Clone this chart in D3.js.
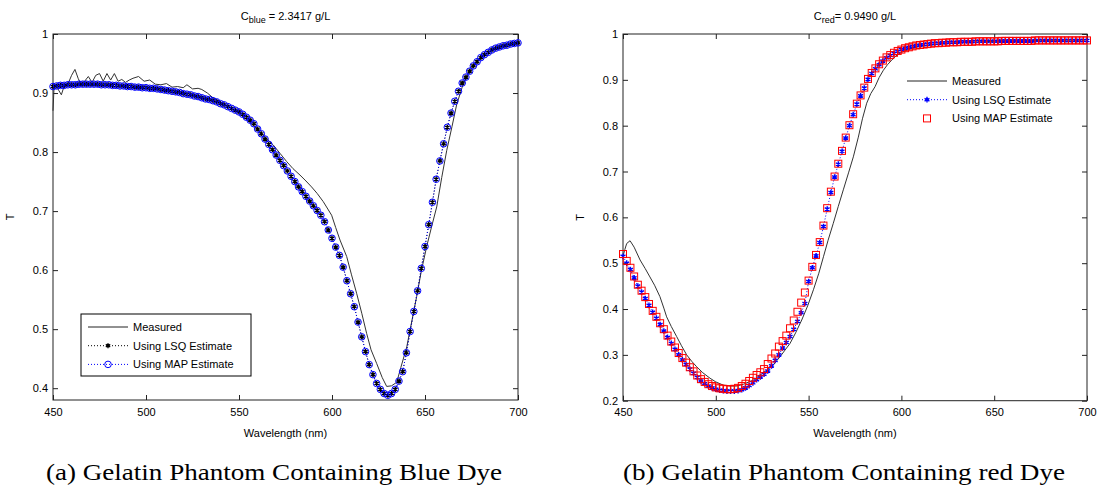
<!DOCTYPE html>
<html lang="en">
  <head>
    <meta charset="UTF-8" />
    <title>Gelatin Phantom Transmittance</title>
    <script src="https://d3js.org/d3.v7.min.js"></script>
    <style>
      body {
        margin: 0;
        background: #fff;
      }
      svg text {
        font-family: "Liberation Sans", Arial, sans-serif;
        fill: #000;
      }
      svg text.caption {
        font-family: "Liberation Serif", "DejaVu Serif", serif;
      }
    </style>
  </head>
  <body>
    <svg width="1097" height="488"></svg>

    <script>
      // fit curves sampled every 2 nm
      const fitWl = d3.range(450, 701, 2);

      const mapBlue = [
        0.911, 0.912, 0.913, 0.913, 0.914, 0.914, 0.914, 0.915, 0.915, 0.915, 0.915, 0.915, 0.915,
        0.914, 0.914, 0.914, 0.913, 0.913, 0.912, 0.912, 0.911, 0.911, 0.910, 0.910, 0.909,
        0.909, 0.908, 0.908, 0.907, 0.906, 0.905, 0.904, 0.903, 0.902, 0.901, 0.899, 0.898, 0.897,
        0.895, 0.894, 0.892, 0.890, 0.889, 0.887, 0.885, 0.882, 0.880, 0.877, 0.874, 0.871,
        0.868, 0.864, 0.859, 0.854, 0.848, 0.839, 0.831, 0.822, 0.813, 0.804, 0.795, 0.786, 0.777,
        0.768, 0.759, 0.750, 0.741, 0.733, 0.725, 0.717, 0.709, 0.701, 0.693, 0.682, 0.668,
        0.654, 0.639, 0.625, 0.605, 0.582, 0.560, 0.538, 0.512, 0.487, 0.462, 0.440, 0.423, 0.408,
        0.398, 0.391, 0.388, 0.391, 0.398, 0.412, 0.428, 0.460, 0.496, 0.530, 0.565, 0.603,
        0.640, 0.677, 0.715, 0.754, 0.785, 0.814, 0.842, 0.866, 0.886, 0.903, 0.917, 0.927, 0.937,
        0.946, 0.953, 0.960, 0.965, 0.969, 0.973, 0.976, 0.978, 0.980, 0.981, 0.983, 0.984, 0.985
      ];
      const lsqBlue = [
        0.911, 0.912, 0.913, 0.913, 0.914, 0.914, 0.914, 0.915, 0.915, 0.915, 0.915, 0.915, 0.915,
        0.914, 0.914, 0.914, 0.913, 0.913, 0.912, 0.912, 0.911, 0.911, 0.910, 0.910, 0.909,
        0.909, 0.908, 0.908, 0.907, 0.906, 0.905, 0.904, 0.903, 0.902, 0.901, 0.899, 0.898, 0.897,
        0.895, 0.894, 0.892, 0.890, 0.889, 0.887, 0.885, 0.882, 0.880, 0.877, 0.874, 0.871,
        0.868, 0.864, 0.859, 0.854, 0.848, 0.839, 0.831, 0.822, 0.813, 0.804, 0.795, 0.786, 0.777,
        0.768, 0.759, 0.750, 0.741, 0.733, 0.725, 0.717, 0.709, 0.701, 0.693, 0.682, 0.668,
        0.654, 0.639, 0.625, 0.605, 0.582, 0.560, 0.538, 0.512, 0.487, 0.462, 0.440, 0.423, 0.408,
        0.398, 0.391, 0.388, 0.391, 0.398, 0.412, 0.428, 0.460, 0.496, 0.530, 0.565, 0.603,
        0.640, 0.677, 0.715, 0.754, 0.785, 0.814, 0.842, 0.866, 0.886, 0.903, 0.917, 0.927, 0.937,
        0.946, 0.953, 0.960, 0.965, 0.969, 0.973, 0.976, 0.978, 0.980, 0.981, 0.983, 0.984, 0.985
      ];

      const measBlueWl = [
        450, 450.5, 451, 452, 453, 454.5, 456, 458, 460, 461.8, 463.5, 465, 467, 469, 471, 473, 475,
        477, 479, 481, 483, 485, 487, 489, 491, 493, 496, 499, 502, 505, 508, 511, 514, 517, 520,
        522, 525, 528, 530, 533, 536, 540, 545, 550, 555, 560, 565, 568.4, 572, 575.6, 579, 582.8,
        586, 589, 592, 595.3, 599.8, 602, 604.3, 607.9, 610.5, 613.3, 616, 618.6, 621, 624, 627,
        629.4, 632, 634.8, 637, 640.2, 643, 645.5, 648, 650.9, 653.5, 656.3, 659, 661.7, 664.5,
        667, 670, 673, 676, 680, 685, 690, 695, 700
      ];
      const measBlue = [
        0.870, 0.905, 0.915, 0.912, 0.905, 0.897, 0.912, 0.915, 0.930, 0.940, 0.925, 0.915, 0.920,
        0.928, 0.918, 0.930, 0.933, 0.920, 0.933, 0.922, 0.933, 0.920, 0.923, 0.918, 0.922, 0.925,
        0.928, 0.920, 0.922, 0.915, 0.914, 0.916, 0.910, 0.911, 0.909, 0.914, 0.907, 0.908, 0.906,
        0.900, 0.892, 0.885, 0.876, 0.866, 0.853, 0.838, 0.822, 0.812, 0.798, 0.784, 0.772, 0.761,
        0.751, 0.741, 0.730, 0.716, 0.693, 0.672, 0.651, 0.623, 0.592, 0.560, 0.527, 0.493, 0.465,
        0.442, 0.418, 0.403, 0.404, 0.410, 0.435, 0.470, 0.515, 0.555, 0.598, 0.640, 0.673, 0.707,
        0.757, 0.803, 0.843, 0.880, 0.910, 0.932, 0.946, 0.960, 0.970, 0.978, 0.982, 0.985
      ];

      const mapRed = [
        0.520, 0.505, 0.490, 0.471, 0.453, 0.440, 0.426, 0.411, 0.396, 0.383, 0.369, 0.356, 0.342,
        0.329, 0.316, 0.304, 0.293, 0.283, 0.273, 0.264, 0.255, 0.247, 0.241, 0.236, 0.232,
        0.229, 0.227, 0.226, 0.225, 0.225, 0.226, 0.228, 0.232, 0.237, 0.243, 0.250, 0.256, 0.262,
        0.269, 0.280, 0.292, 0.303, 0.318, 0.330, 0.342, 0.358, 0.375, 0.394, 0.414, 0.436,
        0.462, 0.492, 0.518, 0.546, 0.582, 0.620, 0.656, 0.689, 0.717, 0.745, 0.774, 0.801, 0.825,
        0.848, 0.866, 0.883, 0.902, 0.915, 0.925, 0.934, 0.942, 0.949, 0.954, 0.959, 0.963,
        0.966, 0.969, 0.971, 0.973, 0.975, 0.976, 0.977, 0.978, 0.979, 0.980, 0.980, 0.981, 0.981,
        0.982, 0.982, 0.982, 0.983, 0.983, 0.983, 0.983, 0.984, 0.984, 0.984, 0.984, 0.984,
        0.984, 0.984, 0.985, 0.985, 0.985, 0.985, 0.985, 0.985, 0.985, 0.985, 0.985, 0.986, 0.986,
        0.986, 0.986, 0.986, 0.986, 0.986, 0.986, 0.986, 0.986, 0.986, 0.986, 0.986, 0.986, 0.986
      ];
      const lsqRed = [
        0.515, 0.500, 0.486, 0.468, 0.450, 0.437, 0.423, 0.408, 0.393, 0.380, 0.366, 0.352, 0.338,
        0.325, 0.312, 0.300, 0.289, 0.279, 0.269, 0.260, 0.251, 0.243, 0.237, 0.232, 0.228,
        0.225, 0.223, 0.222, 0.221, 0.221, 0.221, 0.222, 0.224, 0.228, 0.233, 0.239, 0.246, 0.252,
        0.258, 0.265, 0.276, 0.288, 0.300, 0.315, 0.327, 0.340, 0.356, 0.373, 0.392, 0.412,
        0.460, 0.490, 0.516, 0.545, 0.580, 0.618, 0.654, 0.688, 0.716, 0.744, 0.773, 0.800, 0.824,
        0.847, 0.865, 0.882, 0.901, 0.914, 0.924, 0.933, 0.941, 0.948, 0.953, 0.958, 0.962,
        0.966, 0.969, 0.971, 0.973, 0.975, 0.976, 0.977, 0.978, 0.979, 0.980, 0.980, 0.981, 0.981,
        0.982, 0.982, 0.982, 0.983, 0.983, 0.983, 0.983, 0.984, 0.984, 0.984, 0.984, 0.984,
        0.984, 0.984, 0.985, 0.985, 0.985, 0.985, 0.985, 0.985, 0.985, 0.985, 0.985, 0.986, 0.986,
        0.986, 0.986, 0.986, 0.986, 0.986, 0.986, 0.986, 0.986, 0.986, 0.986, 0.986, 0.986, 0.986
      ];

      const measRedWl = [
        450, 451, 452, 453.8, 456, 459.2, 462, 464.5, 467, 469.9, 472, 473.5, 476, 478.9, 481.5,
        484.3, 487, 489.7, 493, 496.9, 500, 504, 508, 511.3, 515, 520.2, 525, 531, 535, 540, 543,
        546.3, 549.5, 552.6, 555.5, 558, 560.5, 563.3, 566, 568.7, 571.5, 574.1, 576.8, 579, 581.3,
        583.5, 585.8, 588, 590.3, 592.5, 594.8, 597, 600, 605, 610, 620, 630, 650, 675, 700
      ];
      const measRed = [
        0.515, 0.530, 0.543, 0.549, 0.535, 0.507, 0.488, 0.470, 0.452, 0.427, 0.402, 0.383, 0.362,
        0.340, 0.320, 0.300, 0.286, 0.274, 0.261, 0.249, 0.241, 0.234, 0.232, 0.232, 0.236, 0.245,
        0.259, 0.278, 0.298, 0.325, 0.348, 0.376, 0.407, 0.442, 0.478, 0.514, 0.550, 0.587, 0.624,
        0.660, 0.697, 0.732, 0.775, 0.815, 0.849, 0.870, 0.885, 0.905, 0.921, 0.933, 0.943, 0.952,
        0.960, 0.968, 0.973, 0.978, 0.981, 0.984, 0.986, 0.987
      ];

      const xTicks = [450, 500, 550, 600, 650, 700];
      const yTicksBlue = [0.4, 0.5, 0.6, 0.7, 0.8, 0.9, 1];
      const yTicksRed = [0.2, 0.3, 0.4, 0.5, 0.6, 0.7, 0.8, 0.9, 1];
      const legendLabels = ["Measured", "Using LSQ Estimate", "Using MAP Estimate"];

      const svg = d3.select("svg");
      const tickFmt = (d) => (d === 1 ? "1" : d.toFixed(1));

      function panel(opt) {
        const x = d3.scaleLinear().domain([450, 700]).range([opt.left, opt.right]);
        const y = d3.scaleLinear().domain(opt.yDomain).range([opt.bottom, opt.top]);
        const g = svg.append("g");
        const w = opt.right - opt.left,
          h = opt.bottom - opt.top;

        // axes with inward ticks, MATLAB style
        g.append("g")
          .attr("transform", `translate(0,${opt.bottom})`)
          .call(d3.axisBottom(x).tickValues(xTicks).tickSize(-5).tickPadding(8).tickFormat(d3.format("d")))
          .call((a) => a.select(".domain").remove())
          .selectAll("text")
          .attr("font-size", 11);
        g.append("g")
          .attr("transform", `translate(0,${opt.top})`)
          .call(d3.axisTop(x).tickValues(xTicks).tickSize(-5).tickFormat(""))
          .call((a) => a.select(".domain").remove());
        g.append("g")
          .attr("transform", `translate(${opt.left},0)`)
          .call(d3.axisLeft(y).tickValues(opt.yTicks).tickSize(-5).tickPadding(5).tickFormat(tickFmt))
          .call((a) => a.select(".domain").remove())
          .selectAll("text")
          .attr("font-size", 11);
        g.append("g")
          .attr("transform", `translate(${opt.right},0)`)
          .call(d3.axisRight(y).tickValues(opt.yTicks).tickSize(-5).tickFormat(""))
          .call((a) => a.select(".domain").remove());
        g.selectAll(".tick line").attr("stroke", "#222");

        g.append("rect")
          .attr("x", opt.left)
          .attr("y", opt.top)
          .attr("width", w)
          .attr("height", h)
          .attr("fill", "none")
          .attr("stroke", "#222");

        // title with subscript
        const t = g.append("text")
          .attr("x", (opt.left + opt.right) / 2)
          .attr("y", 20)
          .attr("text-anchor", "middle")
          .attr("font-size", 11);
        t.append("tspan").text("C");
        t.append("tspan").attr("dy", 3).attr("font-size", 9).text(opt.sub);
        t.append("tspan").attr("dy", -3).text(opt.rest);

        g.append("text")
          .attr("x", (opt.left + opt.right) / 2)
          .attr("y", 437)
          .attr("text-anchor", "middle")
          .attr("font-size", 11)
          .text("Wavelength (nm)");
        g.append("text")
          .attr("transform", `translate(${opt.left - 39},${(opt.top + opt.bottom) / 2}) rotate(-90)`)
          .attr("text-anchor", "middle")
          .attr("font-size", 11)
          .text("T");
        g.append("text")
          .attr("class", "caption")
          .attr("x", opt.capX)
          .attr("y", 480)
          .attr("font-size", 24)
          .attr("textLength", opt.capW)
          .attr("lengthAdjust", "spacingAndGlyphs")
          .text(opt.caption);

        const plot = g.append("g");
        const line = d3.line().x((d) => x(d[0])).y((d) => y(d[1]));
        const meas = opt.measWl.map((v, i) => [v, opt.meas[i]]);
        const lsq = fitWl.map((v, i) => [v, opt.lsq[i]]);
        const map = fitWl.map((v, i) => [v, opt.map[i]]);

        plot.append("path").datum(meas).attr("fill", "none").attr("stroke", "#333").attr("d", line);
        plot.append("path").datum(lsq).attr("fill", "none").attr("stroke", opt.lsqColor)
          .attr("stroke-dasharray", "1,2").attr("d", line);
        if (opt.mapLine) {
          plot.append("path").datum(map).attr("fill", "none").attr("stroke", opt.mapColor)
            .attr("stroke-dasharray", "1,2").attr("d", line);
        }
        opt.drawLsq(plot.append("g"), lsq.map((d) => [x(d[0]), y(d[1])]));
        opt.drawMap(plot.append("g"), map.map((d) => [x(d[0]), y(d[1])]));

        // legend
        const lg = g.append("g");
        if (opt.legendBox) {
          lg.append("rect")
            .attr("x", opt.legendBox[0])
            .attr("y", opt.legendBox[1])
            .attr("width", opt.legendBox[2])
            .attr("height", opt.legendBox[3])
            .attr("fill", "#fff")
            .attr("stroke", "#000");
        }
        const lx = opt.legendX, ly = opt.legendY;
        legendLabels.forEach((lab, i) => {
          const yy = ly + i * 18.7;
          lg.append("text").attr("x", lx + 45).attr("y", yy + 4).attr("font-size", 11).text(lab);
        });
        lg.append("line").attr("x1", lx).attr("x2", lx + 40).attr("y1", ly).attr("y2", ly).attr("stroke", "#222");
        lg.append("line").attr("x1", lx).attr("x2", lx + 40).attr("y1", ly + 18.7).attr("y2", ly + 18.7)
          .attr("stroke", opt.lsqColor).attr("stroke-dasharray", "1,2");
        opt.drawLsq(lg.append("g"), [[lx + 20, ly + 18.7]]);
        if (opt.mapLine) {
          lg.append("line").attr("x1", lx).attr("x2", lx + 40).attr("y1", ly + 37.4).attr("y2", ly + 37.4)
            .attr("stroke", opt.mapColor).attr("stroke-dasharray", "1,2");
        }
        opt.drawMap(lg.append("g"), [[lx + 20, ly + 37.4]]);
      }

      const star = (sel, pts, color, size) =>
        sel.selectAll("path").data(pts).join("path")
          .attr("transform", (d) => `translate(${d[0]},${d[1]})`)
          .attr("d", d3.symbol(d3.symbolAsterisk, size)())
          .attr("fill", "none")
          .attr("stroke", color)
          .attr("stroke-width", 1.4);

      panel({
        left: 53, right: 518, top: 34, bottom: 400,
        yDomain: [0.38, 1], yTicks: yTicksBlue,
        sub: "blue", rest: " = 2.3417 g/L",
        caption: "(a) Gelatin Phantom Containing Blue Dye", capX: 46, capW: 456,
        measWl: measBlueWl, meas: measBlue, lsq: lsqBlue, map: mapBlue,
        lsqColor: "#000", mapColor: "#0000ff", mapLine: true,
        drawLsq: (s, p) => star(s, p, "#000", 18),
        drawMap: (s, p) =>
          s.selectAll("circle").data(p).join("circle")
            .attr("cx", (d) => d[0]).attr("cy", (d) => d[1]).attr("r", 3.3)
            .attr("fill", "none").attr("stroke", "#0000ff").attr("stroke-width", 1),
        legendBox: [81, 314, 170, 62], legendX: 88, legendY: 327
      });

      panel({
        left: 623, right: 1087, top: 34, bottom: 400.7,
        yDomain: [0.2, 1], yTicks: yTicksRed,
        sub: "red", rest: "= 0.9490 g/L",
        caption: "(b) Gelatin Phantom Containing red Dye", capX: 623, capW: 442,
        measWl: measRedWl, meas: measRed, lsq: lsqRed, map: mapRed,
        lsqColor: "#0000ff", mapColor: "#ff0000", mapLine: false,
        drawLsq: (s, p) => star(s, p, "#0000ff", 22),
        drawMap: (s, p) =>
          s.selectAll("rect").data(p).join("rect")
            .attr("x", (d) => d[0] - 3.5).attr("y", (d) => d[1] - 3.5)
            .attr("width", 7).attr("height", 7)
            .attr("fill", "none").attr("stroke", "#ff0000").attr("stroke-width", 1),
        legendBox: null, legendX: 907, legendY: 81
      });
    </script>
  </body>
</html>
